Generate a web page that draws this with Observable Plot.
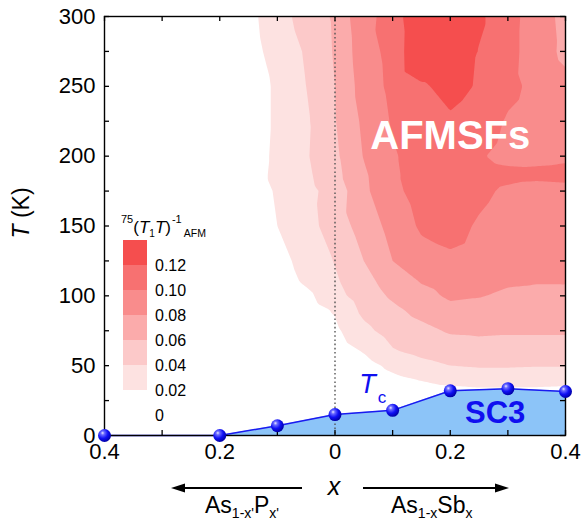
<!DOCTYPE html>
<html><head><meta charset="utf-8">
<script src="https://cdn.jsdelivr.net/npm/d3@7"></script>
<script src="https://cdn.jsdelivr.net/npm/@observablehq/plot@0.6"></script>
<style>
body{margin:0;background:#fff;}
#chart{width:584px;height:522px;}
</style></head><body><div id="chart"></div>
<script>
// ---- contour data: 75(T1T)^-1_AFM on a grid ----
const xGrid = [-0.4, -0.3, -0.2, -0.15, -0.1, -0.05, 0, 0.05, 0.1, 0.15, 0.2, 0.25, 0.3, 0.35, 0.4];
const tGrid = [300, 275, 250, 225, 200, 187, 175, 150, 125, 110, 100, 90, 75, 60, 50, 40, 30, 0];
const afmT300 = [0, 0, 0.004, 0.014, 0.032, 0.048, 0.063, 0.096, 0.105, 0.147, 0.140, 0.124, 0.106, 0.092, 0.073];
const afmT275 = [0, 0, 0.003, 0.012, 0.028, 0.042, 0.062, 0.092, 0.106, 0.141, 0.140, 0.119, 0.106, 0.091, 0.075];
const afmT250 = [0, 0, 0.002, 0.010, 0.023, 0.040, 0.060, 0.089, 0.105, 0.117, 0.127, 0.118, 0.105, 0.095, 0.086];
const afmT225 = [0, 0, 0, 0.010, 0.023, 0.037, 0.059, 0.084, 0.102, 0.112, 0.117, 0.110, 0.098, 0.092, 0.088];
const afmT200 = [0, 0, 0, 0.010, 0.024, 0.038, 0.056, 0.081, 0.098, 0.108, 0.112, 0.102, 0.094, 0.095, 0.097];
const afmT187 = [0, 0, 0, 0.010, 0.025, 0.036, 0.054, 0.077, 0.097, 0.108, 0.112, 0.108, 0.105, 0.104, 0.105];
const afmT175 = [0, 0, 0, 0.010, 0.022, 0.034, 0.048, 0.076, 0.095, 0.108, 0.112, 0.104, 0.097, 0.094, 0.095];
const afmT150 = [0, 0, 0, 0.008, 0.020, 0.032, 0.050, 0.068, 0.087, 0.103, 0.106, 0.098, 0.092, 0.090, 0.092];
const afmT125 = [0, 0, 0, 0.005, 0.013, 0.027, 0.041, 0.060, 0.080, 0.092, 0.097, 0.094, 0.088, 0.086, 0.087];
const afmT110 = [0, 0, 0, 0.003, 0.010, 0.023, 0.037, 0.054, 0.068, 0.081, 0.087, 0.085, 0.082, 0.081, 0.081];
const afmT100 = [0, 0, 0, 0.002, 0.007, 0.015, 0.033, 0.050, 0.063, 0.074, 0.083, 0.081, 0.077, 0.075, 0.076];
const afmT90  = [0, 0, 0, 0.001, 0.004, 0.011, 0.022, 0.045, 0.056, 0.066, 0.075, 0.074, 0.072, 0.070, 0.070];
const afmT75  = [0, 0, 0, 0, 0.002, 0.007, 0.016, 0.035, 0.048, 0.055, 0.062, 0.063, 0.062, 0.062, 0.062];
const afmT60  = [0, 0, 0, 0, 0, 0.003, 0.009, 0.021, 0.038, 0.045, 0.050, 0.052, 0.052, 0.052, 0.052];
const afmT50  = [0, 0, 0, 0, 0, 0, 0.004, 0.012, 0.025, 0.034, 0.040, 0.042, 0.042, 0.041, 0.041];
const afmT40  = [0, 0, 0, 0, 0, 0, 0, 0.006, 0.015, 0.021, 0.026, 0.028, 0.028, 0.027, 0.026];
const afmT30  = [0, 0, 0, 0, 0, 0, 0, 0.002, 0.006, 0.010, 0.012, 0.014, 0.014, 0.014, 0.013];
const afmT0   = [0, 0, 0, 0, 0, 0, 0, 0, 0, 0, 0, 0, 0, 0, 0];
const afmRows = [afmT300, afmT275, afmT250, afmT225, afmT200, afmT187, afmT175, afmT150, afmT125, afmT110, afmT100, afmT90, afmT75, afmT60, afmT50, afmT40, afmT30, afmT0];

const levelThresholds = [0.02, 0.04, 0.06, 0.08, 0.10, 0.12];
const levelColors = ["#fde2e1", "#fcc9c9", "#fbabab", "#f98c8c", "#f77171", "#f54e4e"];
const legendLabels = ["0.12", "0.10", "0.08", "0.06", "0.04", "0.02", "0"];

// ---- Tc (SC3 dome) ----
const tcX = [-0.4, -0.2, -0.1, 0, 0.1, 0.2, 0.3, 0.4];
const tcT = [0, 0, 7, 15, 18, 32, 33.5, 31.5];

// ---- axes ----
const xTickValues = [-0.4, -0.3, -0.2, -0.1, 0, 0.1, 0.2, 0.3, 0.4];
const xLabelValues = [-0.4, -0.2, 0, 0.2, 0.4];
const yTickValues = [0, 25, 50, 75, 100, 125, 150, 175, 200, 225, 250, 275, 300];
const yLabelValues = [0, 50, 100, 150, 200, 250, 300];

const afmPoints = [];
tGrid.forEach((t, i) => xGrid.forEach((x, j) => afmPoints.push({x, T: t, v: afmRows[i][j]})));
const tcPoints = tcX.map((x, i) => ({x, T: tcT[i]}));

const W = 584, H = 522, mL = 104, mR = 19, mT = 16, mB = 87;
const pw = W - mL - mR, ph = H - mT - mB, tick = 5;
const FONT = "'Liberation Sans', Arial, Helvetica, sans-serif";

const plot = Plot.plot({
  width: W, height: H, marginLeft: mL, marginRight: mR, marginTop: mT, marginBottom: mB,
  style: {fontFamily: FONT, fontSize: "22px", color: "black", background: "white", overflow: "visible"},
  x: {domain: [-0.4, 0.4]},
  y: {domain: [0, 300]},
  color: {type: "threshold", domain: [0.03, 0.05, 0.07, 0.09, 0.11], range: levelColors},
  marks: [
    Plot.contour(afmPoints, {x: "x", y: "T", fill: "v", interpolate: "barycentric", thresholds: levelThresholds, stroke: "none"}),
    Plot.areaY(tcPoints, {x: "x", y: "T", fill: "#8cc4f8"}),
    Plot.ruleX([0], {stroke: "#555", strokeDasharray: "1.6,2.6", strokeWidth: 1.4}),
    Plot.line(tcPoints, {x: "x", y: "T", stroke: "#1a1af0", strokeWidth: 1.5}),
    Plot.frame({stroke: "black", strokeWidth: 1.4}),
    Plot.ruleX(xTickValues, {x: d => d, insetTop: ph - tick, stroke: "black", strokeWidth: 1.3}),
    Plot.ruleX(xTickValues, {x: d => d, insetBottom: ph - tick, stroke: "black", strokeWidth: 1.3}),
    Plot.ruleY(yTickValues, {y: d => d, insetRight: pw - tick, stroke: "black", strokeWidth: 1.3}),
    Plot.ruleY(yTickValues, {y: d => d, insetLeft: pw - tick, stroke: "black", strokeWidth: 1.3}),
    Plot.axisX(xLabelValues, {tickSize: 0, tickPadding: 8, tickFormat: d => String(Math.abs(d)), label: null, fontSize: 22}),
    Plot.axisY(yLabelValues, {tickSize: 0, tickPadding: 9, label: null, fontSize: 22}),
    Plot.text(["AFMSFs"], {x: 0.2, y: 214, text: d => d, fill: "white", fontSize: 40, fontWeight: "bold"}),
    Plot.text(["SC3"], {x: 0.278, y: 16, text: d => d, fill: "#1010f0", fontSize: 31, fontWeight: "bold"}),
    Plot.dot(tcPoints, {x: "x", y: "T", r: 6.5, fill: "url(#ball)", stroke: "none"})
  ]
});

const svg = d3.select(plot);
const defs = svg.insert("defs", ":first-child");
const g = defs.append("radialGradient").attr("id", "ball").attr("cx", "38%").attr("cy", "35%").attr("r", "65%").attr("fx", "35%").attr("fy", "30%");
g.append("stop").attr("offset", "0%").attr("stop-color", "#e8e8ff");
g.append("stop").attr("offset", "22%").attr("stop-color", "#6a6aff");
g.append("stop").attr("offset", "60%").attr("stop-color", "#1010f5");
g.append("stop").attr("offset", "100%").attr("stop-color", "#0000a8");

const sx = plot.scale("x"), sy = plot.scale("y");

// Tc label
const tc = svg.append("text").attr("text-anchor", "start").attr("x", sx.apply(0.043)).attr("y", sy.apply(30)).attr("fill", "#1010f0")
  .attr("font-family", FONT).attr("font-size", 27);
tc.append("tspan").attr("font-style", "italic").text("T");
tc.append("tspan").attr("font-size", 17).attr("dy", 10).attr("dx", 2).text("c");

// Legend (colour key)
const lg = svg.append("g").attr("font-family", FONT).attr("text-anchor", "start");
const boxX = 123, boxW = 24, boxTop = 240, boxH = 25;
levelColors.slice().reverse().forEach((c, i) => {
  lg.append("rect").attr("x", boxX).attr("y", boxTop + i * boxH).attr("width", boxW).attr("height", boxH).attr("fill", c);
});
legendLabels.forEach((s, i) => {
  lg.append("text").attr("x", 155).attr("y", boxTop + (i + 1) * boxH).attr("dy", "0.36em").attr("font-size", 16).text(s);
});
const lt = lg.append("text").attr("x", 121).attr("y", 233).attr("font-size", 17);
lt.append("tspan").attr("font-size", 11).attr("dy", -10).text("75");
lt.append("tspan").attr("dy", 10).text("(");
lt.append("tspan").attr("font-style", "italic").text("T");
lt.append("tspan").attr("font-size", 10).attr("dy", 4).text("1");
lt.append("tspan").attr("font-style", "italic").attr("dy", -4).text("T");
lt.append("tspan").text(")");
lt.append("tspan").attr("font-size", 11).attr("dy", -10).attr("dx", 1).text("-1");
lt.append("tspan").attr("font-size", 10.5).attr("dy", 14).attr("dx", 2).text("AFM");

// Y label
svg.append("text").attr("transform", "translate(29,213) rotate(-90)").attr("text-anchor", "middle")
  .attr("font-family", FONT).attr("font-size", 23)
  .call(t => { t.append("tspan").attr("font-style", "italic").text("T"); t.append("tspan").text(" (K)"); });

// X label and composition arrows
svg.append("text").attr("x", 334).attr("y", 495).attr("text-anchor", "middle").attr("font-family", FONT)
  .attr("font-size", 25).attr("font-style", "italic").text("x");
const arrowY = 488;
svg.append("line").attr("x1", 302).attr("x2", 182).attr("y1", arrowY).attr("y2", arrowY).attr("stroke", "black").attr("stroke-width", 2);
svg.append("path").attr("d", `M171,${arrowY} L185,${arrowY - 4.5} L185,${arrowY + 4.5} Z`).attr("fill", "black");
svg.append("line").attr("x1", 363).attr("x2", 498).attr("y1", arrowY).attr("y2", arrowY).attr("stroke", "black").attr("stroke-width", 2);
svg.append("path").attr("d", `M509,${arrowY} L495,${arrowY - 4.5} L495,${arrowY + 4.5} Z`).attr("fill", "black");

const c1 = svg.append("text").attr("text-anchor", "start").attr("x", 205).attr("y", 513).attr("font-family", FONT).attr("font-size", 23);
c1.append("tspan").text("As");
c1.append("tspan").attr("font-size", 14).attr("dy", 5).text("1-x'");
c1.append("tspan").attr("dy", -5).text("P");
c1.append("tspan").attr("font-size", 14).attr("dy", 5).text("x'");

const c2 = svg.append("text").attr("text-anchor", "start").attr("x", 391).attr("y", 513).attr("font-family", FONT).attr("font-size", 23);
c2.append("tspan").text("As");
c2.append("tspan").attr("font-size", 14).attr("dy", 5).text("1-x");
c2.append("tspan").attr("dy", -5).text("Sb");
c2.append("tspan").attr("font-size", 14).attr("dy", 5).text("x");

document.getElementById("chart").appendChild(plot);
</script>
</body></html>
